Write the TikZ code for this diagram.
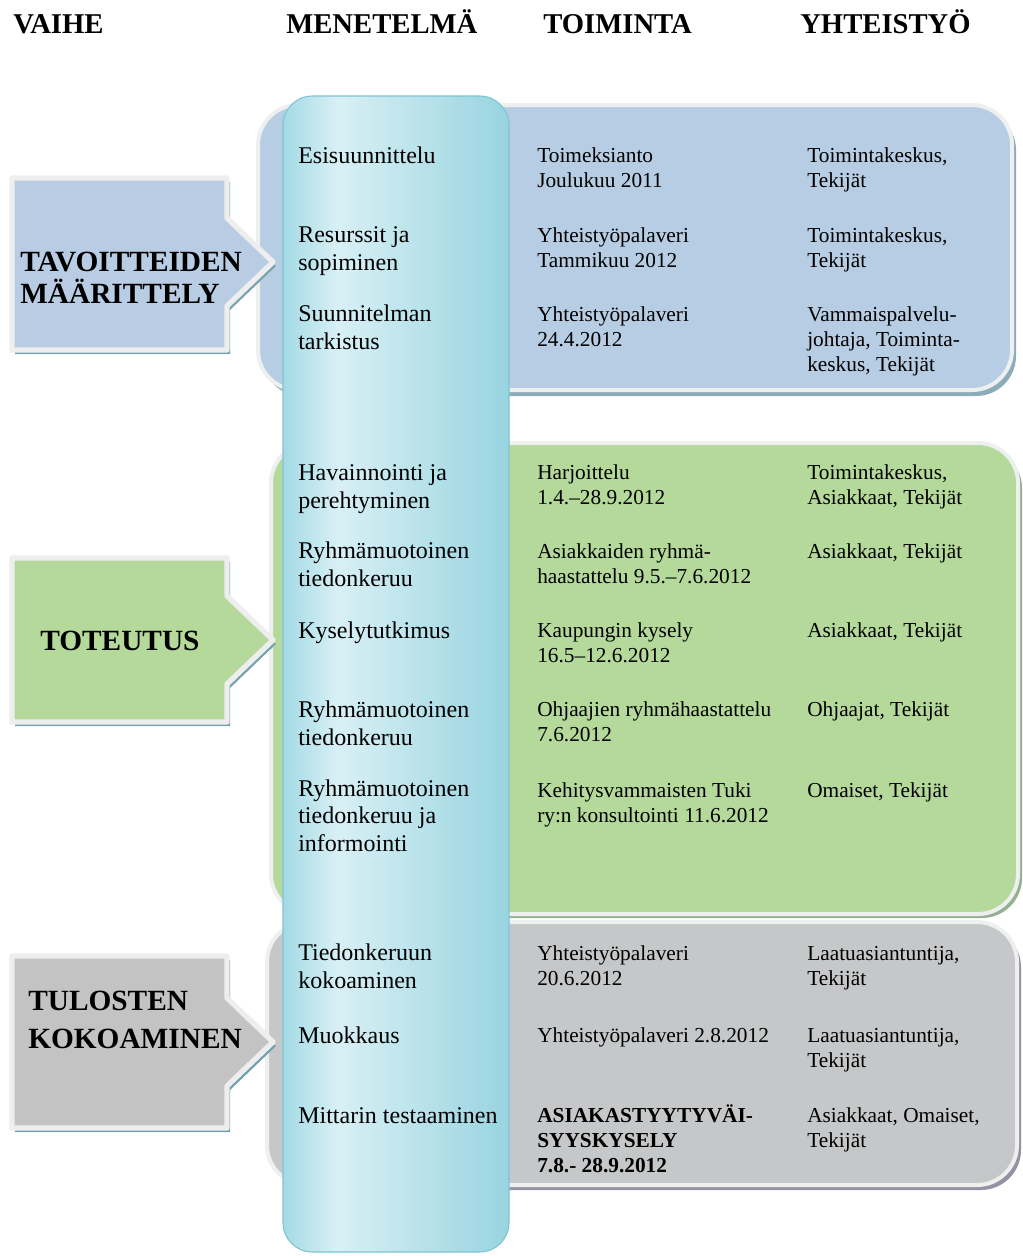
\documentclass[tikz,border=0pt]{standalone}
\usepackage{fontspec}
\setmainfont{Liberation Serif}
\definecolor{sininen}{RGB}{183,205,228}
\definecolor{vihrea}{RGB}{180,217,155}
\definecolor{harmaa}{RGB}{198,199,200}
\definecolor{syaani}{RGB}{163,218,229}
\definecolor{syaani2}{RGB}{152,212,224}
\definecolor{vaalea}{RGB}{216,240,245}
\pgfdeclarehorizontalshading{menetelmavari}{100bp}{color(0bp)=(syaani); color(25bp)=(syaani); color(37bp)=(vaalea); color(75bp)=(syaani2); color(100bp)=(syaani2)}
\begin{document}
\begin{tikzpicture}[x=0.75pt,y=0.75pt,yscale=-1,xscale=1,
  kaista/.style={draw={rgb, 255:red, 238; green, 240; blue, 240 },line width=3pt,rounded corners=30pt},
  nuoli/.style={draw={rgb, 255:red, 238; green, 238; blue, 238 },line width=4pt,line join=round},
  otsikko/.style={anchor=base west,inner sep=0pt,font=\fontsize{21.5}{24}\selectfont\bfseries},
  vaihe/.style={anchor=base west,align=left,inner sep=0pt,font=\fontsize{22}{24}\selectfont\bfseries},
  menet/.style={anchor=base west,align=left,inner sep=0pt,font=\fontsize{18}{20.3}\selectfont},
  toim/.style={anchor=base west,align=left,inner sep=0pt,font=\fontsize{16}{18.75}\selectfont}]
\useasboundingbox (0,0) rectangle (1023,1256);
%Shape: Rounded Rect, shadows of the bands
\fill [color={rgb, 255:red, 140; green, 172; blue, 186 },rounded corners=30pt] (262,110) rectangle (1016,396) ;
\fill [color={rgb, 255:red, 150; green, 176; blue, 146 },rounded corners=30pt] (275,448) rectangle (1022,918) ;
\fill [color={rgb, 255:red, 150; green, 146; blue, 166 },rounded corners=30pt] (271,927) rectangle (1021,1190) ;
%Shape: Rounded Rect, bands
\draw [kaista,fill=sininen] (258,105) rectangle (1012,390) ;
\draw [kaista,fill=vihrea] (271,443) rectangle (1018,914) ;
\draw [kaista,fill=harmaa] (267,922) rectangle (1017,1185) ;
%Shape: Rounded Rect, column
\draw [shading=menetelmavari,draw={rgb, 255:red, 125; green, 196; blue, 212 },line width=0.8pt,rounded corners=22pt] (283,96) rectangle (509,1252) ;
%Shape: Arrow shadows
\fill [color={rgb, 255:red, 120; green, 162; blue, 172 },shift={(3,4)}] (12,178) -- (227,178) -- (227,218) -- (273,262) -- (227,306) -- (227,350) -- (12,350) -- cycle ;
\fill [color={rgb, 255:red, 120; green, 162; blue, 172 },shift={(3,4)}] (12,558) -- (227,558) -- (227,596) -- (273,640) -- (227,684) -- (227,722) -- (12,722) -- cycle ;
\fill [color={rgb, 255:red, 110; green, 160; blue, 176 },shift={(3,4)}] (12,956) -- (227,956) -- (227,998) -- (273,1042) -- (227,1086) -- (227,1128) -- (12,1128) -- cycle ;
%Shape: Arrows
\draw [nuoli,fill={rgb, 255:red, 184; green, 205; blue, 228 }] (12,178) -- (227,178) -- (227,218) -- (273,262) -- (227,306) -- (227,350) -- (12,350) -- cycle ;
\draw [nuoli,fill={rgb, 255:red, 181; green, 216; blue, 155 }] (12,558) -- (227,558) -- (227,596) -- (273,640) -- (227,684) -- (227,722) -- (12,722) -- cycle ;
\draw [nuoli,fill={rgb, 255:red, 195; green, 195; blue, 196 }] (12,956) -- (227,956) -- (227,998) -- (273,1042) -- (227,1086) -- (227,1128) -- (12,1128) -- cycle ;
% Text Node (multi-line nodes are placed at their last baseline)
\node [otsikko] (vaiheotsikko) at (13,34) {VAIHE};
% Text Node
\node [otsikko] (menetelma) at (286,34) {MENETELMÄ};
% Text Node
\node [otsikko] (toiminta) at (543,34) {TOIMINTA};
% Text Node
\node [otsikko] (yhteistyo) at (800,34) {YHTEISTYÖ};
% Text Node
\node [vaihe] (tavoite) at (20,303) {TAVOITTEIDEN\\MÄÄRITTELY};
% Text Node
\node [vaihe] (toteutus) at (40,650) {TOTEUTUS};
% Text Node
\node [vaihe,font=\fontsize{22}{28.5}\selectfont\bfseries] (tulokset) at (28,1048) {TULOSTEN\\KOKOAMINEN};
% Text Node
\node [menet] (m1) at (298,163) {Esisuunnittelu};
\node [menet] (m2) at (298,270) {Resurssit ja\\sopiminen};
\node [menet] (m3) at (298,349) {Suunnitelman\\tarkistus};
\node [menet] (m4) at (298,508) {Havainnointi ja\\perehtyminen};
\node [menet] (m5) at (298,586) {Ryhmämuotoinen\\tiedonkeruu};
\node [menet] (m6) at (298,638) {Kyselytutkimus};
\node [menet] (m7) at (298,745) {Ryhmämuotoinen\\tiedonkeruu};
\node [menet] (m8) at (298,851) {Ryhmämuotoinen\\tiedonkeruu ja\\informointi};
\node [menet] (m9) at (298,988) {Tiedonkeruun\\kokoaminen};
\node [menet] (m10) at (298,1043) {Muokkaus};
\node [menet] (m11) at (298,1123) {Mittarin testaaminen};
% Text Node
\node [toim] (t1) at (537,187) {Toimeksianto\\Joulukuu 2011};
\node [toim] (t2) at (537,267) {Yhteistyöpalaveri\\Tammikuu 2012};
\node [toim] (t3) at (537,346) {Yhteistyöpalaveri\\24.4.2012};
\node [toim] (t4) at (537,504) {Harjoittelu\\1.4.–28.9.2012};
\node [toim] (t5) at (537,583) {Asiakkaiden ryhmä-\\haastattelu 9.5.–7.6.2012};
\node [toim] (t6) at (537,662) {Kaupungin kysely\\16.5–12.6.2012};
\node [toim] (t7) at (537,741) {Ohjaajien ryhmähaastattelu\\7.6.2012};
\node [toim] (t8) at (537,822) {Kehitysvammaisten Tuki\\ry:n konsultointi 11.6.2012};
\node [toim] (t9) at (537,985) {Yhteistyöpalaveri\\20.6.2012};
\node [toim] (t10) at (537,1042) {Yhteistyöpalaveri 2.8.2012};
\node [toim,font=\fontsize{16}{18.75}\selectfont\bfseries] (t11) at (537,1172) {ASIAKASTYYTYVÄI-\\SYYSKYSELY\\7.8.- 28.9.2012};
% Text Node
\node [toim] (y1) at (807,187) {Toimintakeskus,\\Tekijät};
\node [toim] (y2) at (807,267) {Toimintakeskus,\\Tekijät};
\node [toim] (y3) at (807,371) {Vammaispalvelu-\\johtaja, Toiminta-\\keskus, Tekijät};
\node [toim] (y4) at (807,504) {Toimintakeskus,\\Asiakkaat, Tekijät};
\node [toim] (y5) at (807,558) {Asiakkaat, Tekijät};
\node [toim] (y6) at (807,637) {Asiakkaat, Tekijät};
\node [toim] (y7) at (807,716) {Ohjaajat, Tekijät};
\node [toim] (y8) at (807,797) {Omaiset, Tekijät};
\node [toim] (y9) at (807,985) {Laatuasiantuntija,\\Tekijät};
\node [toim] (y10) at (807,1067) {Laatuasiantuntija,\\Tekijät};
\node [toim] (y11) at (807,1147) {Asiakkaat, Omaiset,\\Tekijät};
\end{tikzpicture}
\end{document}
